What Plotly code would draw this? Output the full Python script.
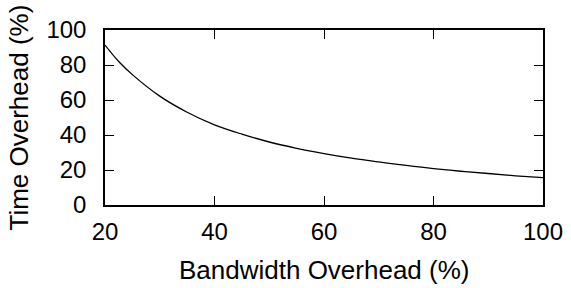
import plotly.graph_objects as go

bandwidth_overhead = [20, 22.5, 25, 30, 35, 40, 45, 50, 55, 60, 65, 70, 75, 80, 85, 90, 95, 100]
time_overhead = [91.4, 82.0, 74.5, 62.2, 53.0, 45.8, 40.5, 36.0, 32.4, 29.4, 26.8, 24.6, 22.6, 20.8, 19.3, 18.0, 16.7, 15.6]

x_ticks = [20, 40, 60, 80, 100]
y_ticks = [0, 20, 40, 60, 80, 100]

x_title = "Bandwidth Overhead (%)"
y_title = "Time Overhead (%)"

FONT = "Liberation Sans, Arial, Helvetica, sans-serif"

fig = go.Figure()
fig.add_trace(go.Scatter(
    x=bandwidth_overhead, y=time_overhead, mode="lines",
    line=dict(color="black", width=1.3, shape="spline", smoothing=1.0),
    showlegend=False, hoverinfo="skip",
))

axis_common = dict(
    showline=True, linecolor="black", linewidth=1.5, mirror="ticks",
    ticks="inside", ticklen=9, tickwidth=1.3, tickcolor="black",
    showgrid=False, zeroline=False, automargin=False,
    tickfont=dict(family=FONT, size=24, color="black"),
)

fig.update_layout(
    width=571, height=288,
    margin=dict(l=105, r=28, t=30, b=83),
    paper_bgcolor="white", plot_bgcolor="white",
    font=dict(family=FONT, color="black"),
    xaxis=dict(
        range=[20, 100], tickvals=x_ticks, ticktext=[str(v) for v in x_ticks],
        ticklabelstandoff=4,
        **axis_common,
    ),
    yaxis=dict(
        range=[0, 100], tickvals=y_ticks, ticktext=[str(v) for v in y_ticks],
        ticklabelstandoff=12,
        **axis_common,
    ),
    annotations=[
        dict(text=x_title, xref="paper", yref="paper", x=0.5, y=-0.371,
             xanchor="center", yanchor="middle", showarrow=False,
             font=dict(family=FONT, size=26, color="black")),
        dict(text=y_title, xref="paper", yref="paper", x=-0.1986, y=0.5,
             xanchor="center", yanchor="middle", textangle=-90, showarrow=False,
             font=dict(family=FONT, size=26, color="black")),
    ],
)

fig.write_html(
    "out.html",
    config={"displayModeBar": False},
    post_script="document.body.style.margin='0px';document.body.style.overflow='hidden';",
)
